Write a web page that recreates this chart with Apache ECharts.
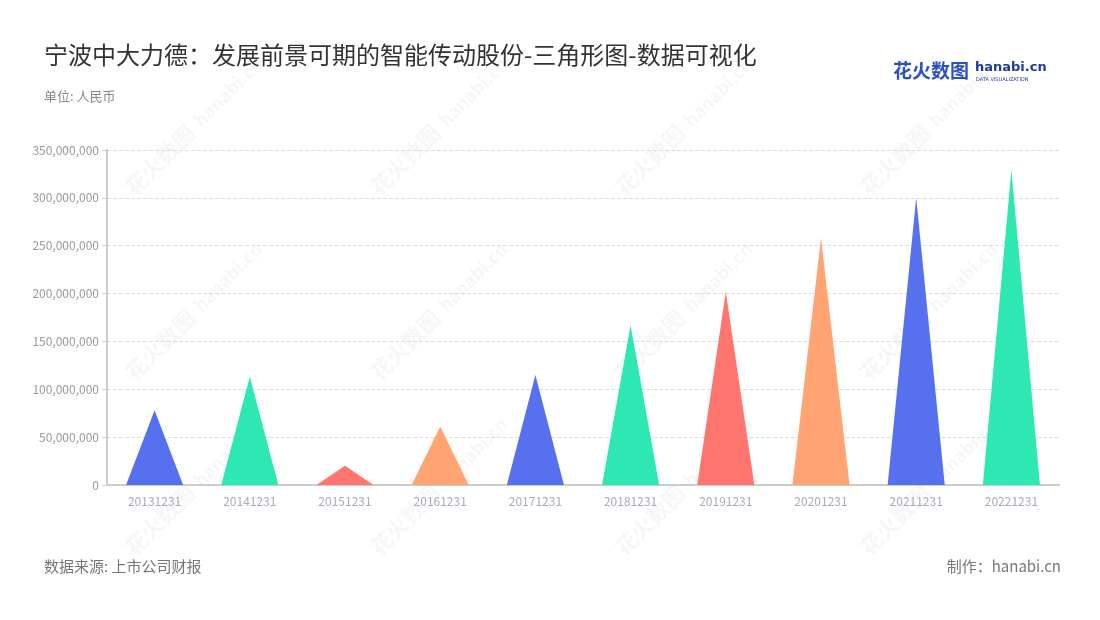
<!DOCTYPE html>
<html><head><meta charset="utf-8">
<script src="https://cdn.jsdelivr.net/npm/echarts@6/dist/echarts.min.js"></script>
<style>html,body{margin:0;padding:0;background:#fff}#c{width:1100px;height:620px}</style>
</head><body><div id="c"></div>
<script>
const categories = ['20131231','20141231','20151231','20161231','20171231','20181231','20191231','20201231','20211231','20221231'];
const values = [78000000, 113000000, 20000000, 61000000, 115000000, 167000000, 202000000, 258000000, 300000000, 329000000];
const palette = ['#5770EE', '#2DE8B2', '#FF7671', '#FFA472'];
const yTicks = { min: 0, max: 350000000, interval: 50000000 };

const chart = echarts.init(document.getElementById('c'));
const font = '"Noto Sans CJK SC", "Noto Sans", sans-serif';

const wm = [];
const wx = [160, 405, 650, 895];
const wy = [160, 345, 520];
wy.forEach(y => wx.forEach(x => {
  wm.push({type:'text', x: x, y: y, rotation: Math.PI/4, silent:true, z:-1,
    style:{text:'花火数图', fill:'rgba(0,0,0,0.035)', font:'bold 22px ' + font, textAlign:'center', textVerticalAlign:'middle'}});
  wm.push({type:'text', x: x+68, y: y-68, rotation: Math.PI/4, silent:true, z:-1,
    style:{text:'hanabi.cn', fill:'rgba(0,0,0,0.035)', font:'bold 18px ' + font, textAlign:'center', textVerticalAlign:'middle'}});
}));

chart.setOption({
  backgroundColor:'#fff',
  textStyle:{fontFamily: font},
  title:[
    {text:'宁波中大力德：发展前景可期的智能传动股份-三角形图-数据可视化', left:44, top:43, padding:0,
     textStyle:{fontSize:24, fontWeight:'normal', color:'#333', fontFamily:font}},
    {text:'单位: 人民币', left:44, top:90, padding:0, textStyle:{fontSize:13, fontWeight:'normal', color:'#888', fontFamily:font}},
    {text:'数据来源: 上市公司财报', left:44, top:559, padding:0, textStyle:{fontSize:15, fontWeight:'normal', color:'#777', fontFamily:font}},
    {text:'制作：hanabi.cn', right:39, top:559, padding:0, textStyle:{fontSize:15, fontWeight:'normal', color:'#777', fontFamily:font}}
  ],
  graphic: wm.concat([
    {type:'text', left:893, top:61, style:{text:'花火数图', fill:'#2B4FC4', font:'bold 19px ' + font}},
    {type:'text', left:975, top:61, style:{text:'hanabi.cn', fill:'#1F3A93', font:'bold 13px "DejaVu Sans", sans-serif'}},
    {type:'text', left:976, top:77, style:{text:'DATA VISUALIZATION', fill:'#1F3A93', font:'5px "DejaVu Sans", sans-serif'}}
  ]),
  grid:{left:107, right:41, top:150, bottom:135},
  xAxis:{type:'category', data:categories,
    axisLine:{lineStyle:{color:'#ccc', width:2}},
    axisTick:{alignWithLabel:true, lineStyle:{color:'#ccc'}},
    axisLabel:{color:'#aab', fontSize:12, margin:10}},
  yAxis:{type:'value', min:yTicks.min, max:yTicks.max, interval:yTicks.interval,
    axisLine:{show:true, lineStyle:{color:'#ccc', width:2}},
    axisTick:{show:true, lineStyle:{color:'#ccc'}},
    axisLabel:{color:'#999', fontSize:12, formatter: v => v.toLocaleString('en-US')},
    splitLine:{lineStyle:{type:'dashed', color:'#ddd'}}},
  series:[{
    type:'pictorialBar',
    barCategoryGap:'40%',
    symbol:'path://M0,10 L10,10 L5,0 z',
    data: values.map((v,i) => ({value:v, itemStyle:{color: palette[i % palette.length]}}))
  }]
});
</script></body></html>
